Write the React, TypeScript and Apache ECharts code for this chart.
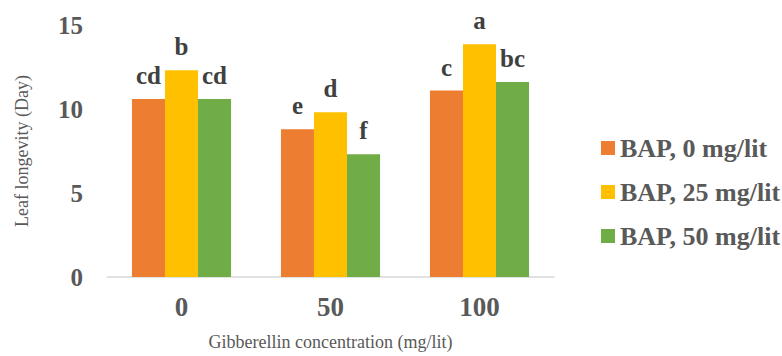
import React, { useEffect, useRef } from "react";
import * as echarts from "echarts";

const categories = ["0", "50", "100"];
const seriesNames = ["BAP, 0 mg/lit", "BAP, 25 mg/lit", "BAP, 50 mg/lit"];
const bap0 = [10.6, 8.8, 11.1];
const bap25 = [12.3, 9.8, 13.85];
const bap50 = [10.6, 7.3, 11.6];
const letters0 = ["cd", "e", "c"];
const letters25 = ["b", "d", "a"];
const letters50 = ["cd", "f", "bc"];
const colors = ["#ED7D31", "#FFC000", "#70AD47"];

const FONT = "'Liberation Serif', 'Times New Roman', serif";

export default function App() {
  const ref = useRef<HTMLDivElement>(null);
  useEffect(() => {
    const chart = echarts.init(ref.current!, null, { renderer: "svg" });
    const values = [bap0, bap25, bap50];
    const letters = [letters0, letters25, letters50];
    chart.setOption({
      animation: false,
      textStyle: { fontFamily: FONT },
      grid: { left: 107, right: 228, top: 25, bottom: 79, containLabel: false },
      legend: {
        orient: "vertical",
        left: 596,
        top: 130,
        itemWidth: 14,
        itemHeight: 14,
        itemGap: 18,
        icon: "rect",
        data: seriesNames,
        textStyle: {
          fontFamily: FONT,
          fontSize: 26,
          fontWeight: "bold",
          color: "#595959",
          lineHeight: 26,
          padding: [0, 0, 0, 0],
        },
      },
      xAxis: {
        type: "category",
        data: categories,
        name: "Gibberellin concentration (mg/lit)",
        nameLocation: "middle",
        nameGap: 56,
        nameTextStyle: { fontFamily: FONT, fontSize: 18, color: "#595959" },
        axisLine: { lineStyle: { color: "#D9D9D9", width: 1.5 } },
        axisTick: { show: false },
        axisLabel: {
          fontFamily: FONT,
          fontSize: 27,
          fontWeight: "bold",
          color: "#595959",
          margin: 16,
        },
      },
      yAxis: {
        type: "value",
        min: 0,
        max: 15,
        interval: 5,
        name: "Leaf longevity (Day)",
        nameLocation: "middle",
        nameGap: 76,
        nameTextStyle: { fontFamily: FONT, fontSize: 18, color: "#595959" },
        axisLine: { show: false },
        axisTick: { show: false },
        splitLine: { show: false },
        axisLabel: {
          fontFamily: FONT,
          fontSize: 25,
          fontWeight: "bold",
          color: "#595959",
          margin: 24,
        },
      },
      series: seriesNames.map((name, i) => ({
        type: "bar",
        name,
        data: values[i],
        barGap: "0%",
        barCategoryGap: "33.5%",
        itemStyle: { color: colors[i] },
        label: {
          show: true,
          position: "top",
          distance: 11,
          fontFamily: FONT,
          fontSize: 25,
          fontWeight: "bold",
          color: "#404040",
          formatter: (p: any) => letters[i][p.dataIndex],
        },
      })),
    });
    return () => chart.dispose();
  }, []);
  return <div ref={ref} style={{ width: 782, height: 356, position: "absolute", left: 0, top: 0 }} />;
}
